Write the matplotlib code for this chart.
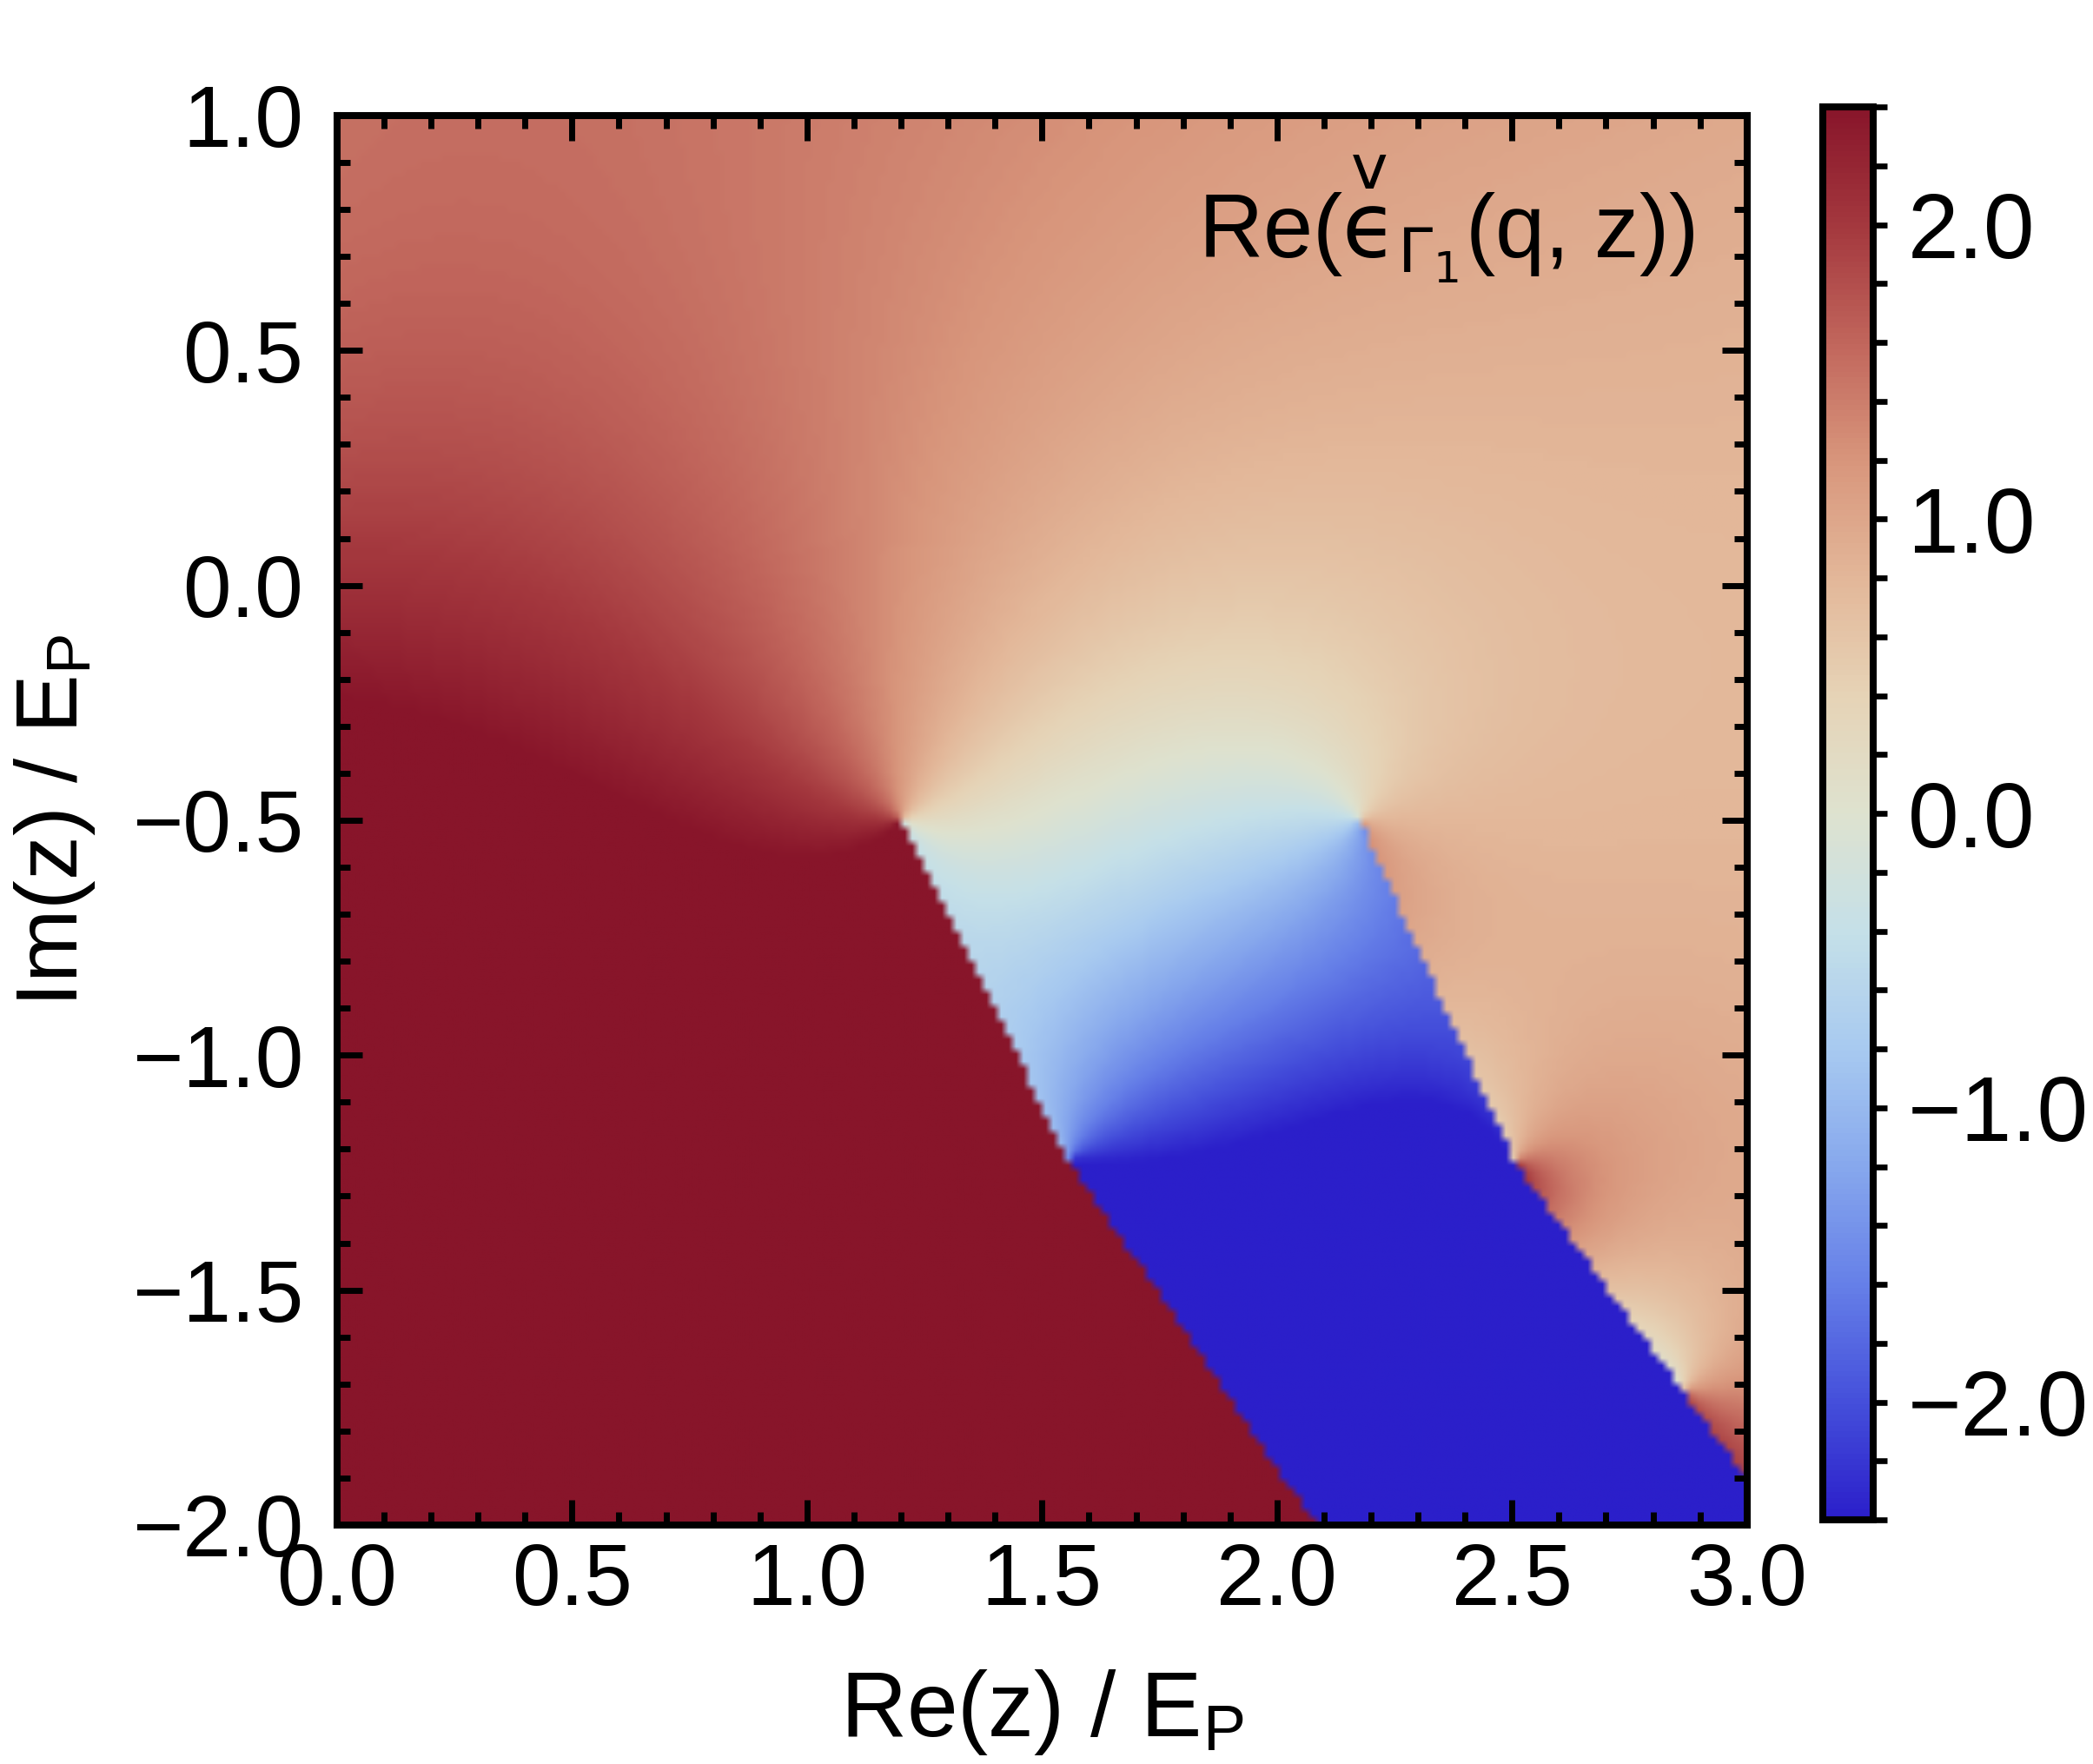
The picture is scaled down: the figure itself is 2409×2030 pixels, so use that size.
import numpy as np
import matplotlib
matplotlib.use("Agg")
import matplotlib.pyplot as plt
from matplotlib.colors import LinearSegmentedColormap, Normalize
from matplotlib.cm import ScalarMappable
from matplotlib.ticker import MultipleLocator, FuncFormatter

plt.rcParams['font.family'] = ['Liberation Sans', 'DejaVu Sans']
plt.rcParams['mathtext.fontset'] = 'custom'
plt.rcParams['mathtext.rm'] = 'Liberation Sans'
plt.rcParams['mathtext.it'] = 'Liberation Sans'
plt.rcParams['mathtext.bf'] = 'Liberation Sans:bold'

# branch cuts (vertices, all but the last are branch points)
cut_a_re = [1.20, 1.555, 2.08]
cut_a_im = [-0.50, -1.225, -2.00]
cut_b_re = [2.18, 2.51, 2.87, 3.00]
cut_b_im = [-0.50, -1.23, -1.72, -1.90]

samp_re = [0.0, 0.5, 1.0, 1.5, 2.0, 2.5, 3.0,
           0.0, 0.5, 1.0, 1.5, 2.0, 2.5, 3.0,
           0.0, 0.5, 1.0, 1.5, 2.0, 2.5, 3.0,
           0.0, 0.0, 0.5, 1.0, 1.0,
           0.0, 0.6, 1.0, 1.45, 1.7, 2.0, 2.5, 3.0,
           1.35, 1.7, 1.6, 1.95, 2.05, 2.0, 2.1, 1.45, 1.8,
           2.4, 2.8, 2.65, 2.5, 2.95, 2.97, 2.85, 2.47, 2.62, 2.83, 2.95, 2.65,
           0.3, 0.5, 1.1, 1.4, 1.8, 0.2, 0.8, 0.0,
           2.0, 2.2, 2.4, 2.7, 2.3]
samp_im = [1.0, 1.0, 1.0, 1.0, 1.0, 1.0, 1.0,
           0.5, 0.5, 0.5, 0.5, 0.5, 0.5, 0.5,
           0.0, 0.0, 0.0, 0.0, 0.0, 0.0, 0.0,
           0.25, -0.2, -0.25, -0.25, -0.4,
           -0.3, -0.3, -0.35, -0.3, -0.3, -0.35, -0.4, -0.4,
           -0.8, -0.7, -1.1, -0.6, -1.0, -0.8, -0.6, -1.0, -1.1,
           -0.8, -0.9, -1.35, -1.1, -1.5, -1.72, -1.55, -1.05, -1.3, -1.6, -1.78, -1.2,
           -1.8, -1.0, -0.8, -1.5, -1.95, -0.6, -0.6, -0.4,
           -1.5, -1.2, -1.8, -1.9, -1.0]
samp_val = [1.5, 1.45, 1.3, 1.15, 1.05, 1.0, 1.0,
            1.6, 1.55, 1.35, 1.1, 0.95, 0.95, 1.0,
            2.0, 1.9, 1.45, 0.75, 0.5, 0.8, 0.95,
            1.8, 2.3, 2.25, 1.7, 2.15,
            2.6, 2.45, 2.2, 0.55, 0.25, 0.1, 0.95, 1.0,
            -0.45, -0.45, -1.0, -1.0, -2.6, -1.6, -1.6, -0.6, -2.1,
            1.3, 1.0, 1.45, 0.35, 0.95, 1.55, 0.45, 0.3, 1.5, 0.4, 1.55, 1.1,
            3.0, 3.0, 3.0, 3.0, 3.0, 3.0, 3.0, 3.0,
            -3.0, -3.0, -3.0, -3.0, -3.0]

# colour bar colours
cb_vals = [-2.4, -2.0, -1.6, -1.2, -0.8, -0.4, 0.0, 0.4, 0.8, 1.2, 1.6, 2.0, 2.4]
cb_cols = ['#2b1fca', '#4550db', '#6680e8', '#87a8ed', '#a8caf0', '#c5e0e8',
           '#dee2cf', '#e6d3b6', '#e3b799', '#d8967c', '#c1665c', '#a4383e', '#88152a']
vmin, vmax = -2.4, 2.4


def chain_angle(x, y, cx, cy):
    # angle around cx[0], with its cut following the polyline cx, cy
    dirs = [np.arctan2(cy[i + 1] - cy[i], cx[i + 1] - cx[i]) for i in range(len(cx) - 1)]
    dirs.append(dirs[-1])
    t = np.mod(np.arctan2(y - cy[0], x - cx[0]) - dirs[0], 2 * np.pi)
    for i in range(1, len(cx)):
        turn = np.angle(np.exp(1j * (dirs[i] - dirs[i - 1])))
        rel = np.angle(np.exp(1j * (np.arctan2(y - cy[i], x - cx[i]) - dirs[i - 1])))
        if turn > 0:
            t = t + 2 * np.pi * ((rel > 0) & (rel < turn))
        elif turn < 0:
            t = t - 2 * np.pi * ((rel < 0) & (rel > turn))
    return t


def basis(x, y):
    cols = [np.ones_like(x), x, y]
    for cx, cy in [(cut_a_re, cut_a_im), (cut_b_re, cut_b_im)]:
        for j in range(len(cx) - 1):
            cols.append(chain_angle(x, y, cx[j:], cy[j:]))
        # mirror image z -> -conj(z) of the first branch point
        cols.append(chain_angle(-x, y, cx, cy))
    # short-range fans at the lower points of the right cut
    for j in (1, 2):
        r = np.hypot(x - cut_b_re[j], y - cut_b_im[j])
        t = chain_angle(x, y, cut_b_re[j:], cut_b_im[j:])
        cols.append((t - np.pi) * np.exp(-r / 0.5))
    return np.stack(cols, axis=-1)


sx = np.array(samp_re)
sy = np.array(samp_im)
sv = np.array(samp_val)
w = np.ones_like(sv)
w[np.abs(sv) > 2.9] = 0.5
w[(sx > 2.4) & (sy < -1.0) & (np.abs(sv) < 2.9)] = 1.5
coef, *_ = np.linalg.lstsq(basis(sx, sy) * w[:, None], sv * w, rcond=None)

xs = np.linspace(0, 3, 190)
ys = np.linspace(-2, 1, 190)
X, Y = np.meshgrid(xs, ys)
V = np.clip(basis(X, Y) @ coef, vmin, vmax)

cmap = LinearSegmentedColormap.from_list(
    'thermo', [((v - vmin) / (vmax - vmin), c) for v, c in zip(cb_vals, cb_cols)])
norm = Normalize(vmin, vmax)

fig = plt.figure(figsize=(24.09, 20.30), dpi=100)
ax = fig.add_axes([0.161, 0.1355, 0.6737, 0.799])
cax = fig.add_axes([0.8709, 0.1384, 0.0241, 0.801])

ax.imshow(cmap(norm(V)), extent=[0, 3, -2, 1], origin='lower',
          interpolation='bilinear', aspect='auto')
ax.set_xlim(0, 3)
ax.set_ylim(-2, 1)

fmt = FuncFormatter(lambda v, p: f"{v:.1f}".replace('-', '\u2212'))
ax.xaxis.set_major_locator(MultipleLocator(0.5))
ax.xaxis.set_minor_locator(MultipleLocator(0.1))
ax.yaxis.set_major_locator(MultipleLocator(0.5))
ax.yaxis.set_minor_locator(MultipleLocator(0.1))
ax.xaxis.set_major_formatter(fmt)
ax.yaxis.set_major_formatter(fmt)
ax.tick_params(which='both', direction='in', top=True, right=True, width=5, labelsize=72)
ax.tick_params(which='major', length=21)
ax.tick_params(which='minor', length=11)
ax.tick_params(axis='x', pad=14)
ax.tick_params(axis='y', pad=28)
for s in ax.spines.values():
    s.set_linewidth(5.8)

eps_label = 'Re($\\overset{\\mathrm{v}}{\\mathrm{\u03f5}}_{\\Gamma_1}$(q, z))'
ax.text(0.963, 0.899, eps_label,
        transform=ax.transAxes, ha='right', va='baseline', fontsize=74,
        math_fontfamily='dejavusans')

fig.text(0.498, 0.016, r'Re(z) / E$_\mathrm{P}$', ha='center', va='baseline', fontsize=76)
fig.text(0.026, 0.535, r'Im(z) / E$_\mathrm{P}$', ha='center', va='center',
         rotation=90, fontsize=73)

cb = fig.colorbar(ScalarMappable(norm=norm, cmap=cmap), cax=cax)
cb.set_ticks([-2, -1, 0, 1, 2])
cb.ax.yaxis.set_major_formatter(fmt)
cb.ax.yaxis.set_minor_locator(MultipleLocator(0.2))
cb.ax.tick_params(which='both', direction='out', length=11.5, width=4.8, labelsize=76, pad=17)
cb.outline.set_linewidth(5.8)

fig.savefig('out.png', dpi=100)
